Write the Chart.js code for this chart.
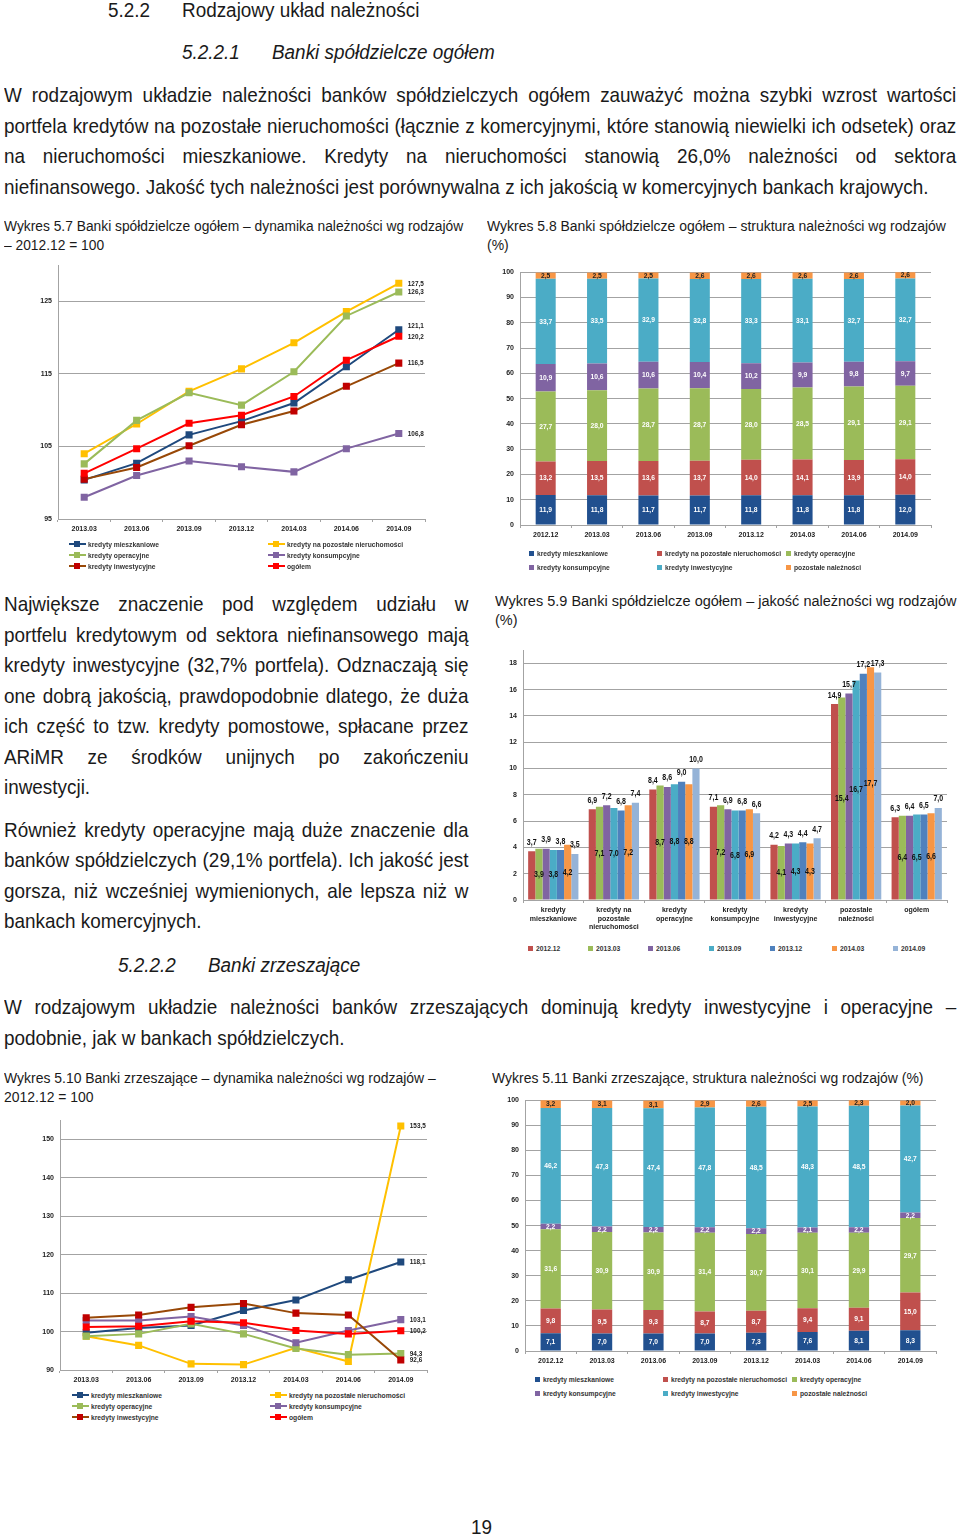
<!DOCTYPE html>
<html lang="pl">
<head>
<meta charset="UTF-8">
<title>Rodzajowy układ należności</title>
<script src="https://cdn.jsdelivr.net/npm/chart.js"></script>
<style>
  body {
    margin: 0; width: 960px; height: 1537px; position: relative; overflow: hidden;
    background: #fff; color: #1a1a1a;
    font-family: "Liberation Sans Narrow", "Arial Narrow", "Liberation Sans", sans-serif;
  }
  /* the page uses a narrow face; squeeze the regular one to the same width */
  .t { position: absolute; white-space: nowrap; transform: scaleX(0.9); transform-origin: 0 0; }
  .h { font-size: 20px; line-height: 24px; transform: scaleX(0.945); }
  .it { font-style: italic; }
  .par { position: absolute; font-size: 21px; transform: scaleX(0.9); transform-origin: 0 0; }
  .par div { text-align: justify; text-align-last: justify; white-space: nowrap; }
  .par div.last { text-align-last: left; }
  .cap { font-size: 15.5px; line-height: 19px; }
  canvas { position: absolute; }
  .lg { position: absolute; height: 10px; display: flex; align-items: center; white-space: nowrap;
        font-weight: bold; font-size: 8px; color: #333; }
  .lg b { display: inline-block; transform: scaleX(0.84); transform-origin: 0 50%; }
  .ln { position: relative; width: 17px; height: 2px; margin-right: 2px; }
  .ln i { position: absolute; left: 5px; top: -2px; width: 6px; height: 6px; }
  .sq { width: 5px; height: 5px; margin-right: 3px; }
</style>
</head>
<body>

<!-- Headings and text -->
<div class="t h" style="left:108px;top:-2px">5.2.2</div>
<div class="t h" style="left:182px;top:-2px">Rodzajowy układ należności</div>
<div class="t h it" style="left:182px;top:40px">5.2.2.1</div>
<div class="t h it" style="left:272px;top:40px">Banki spółdzielcze ogółem</div>

<div class="par" style="left:4px;top:80px;width:1058px;line-height:30.7px">
  <div>W rodzajowym układzie należności banków spółdzielczych ogółem zauważyć można szybki wzrost wartości</div>
  <div>portfela kredytów na pozostałe nieruchomości (łącznie z komercyjnymi, które stanowią niewielki ich odsetek) oraz</div>
  <div>na nieruchomości mieszkaniowe. Kredyty na nieruchomości stanowią 26,0% należności od sektora</div>
  <div class="last">niefinansowego. Jakość tych należności jest porównywalna z ich jakością w komercyjnych bankach krajowych.</div>
</div>

<div class="t cap" style="left:4px;top:216px;transform:scaleX(0.89)">Wykres 5.7 Banki spółdzielcze ogółem – dynamika należności wg rodzajów<br>– 2012.12 = 100</div>
<div class="t cap" style="left:487px;top:216px">Wykres 5.8 Banki spółdzielcze ogółem – struktura należności wg rodzajów<br>(%)</div>

<div class="par" style="left:4px;top:589px;width:516px;line-height:30.5px">
  <div>Największe znaczenie pod względem udziału w</div>
  <div>portfelu kredytowym od sektora niefinansowego mają</div>
  <div>kredyty inwestycyjne (32,7% portfela). Odznaczają się</div>
  <div>one dobrą jakością, prawdopodobnie dlatego, że duża</div>
  <div>ich część to tzw. kredyty pomostowe, spłacane przez</div>
  <div>ARiMR ze środków unijnych po zakończeniu</div>
  <div class="last">inwestycji.</div>
</div>
<div class="par" style="left:4px;top:815px;width:516px;line-height:30.4px">
  <div>Również kredyty operacyjne mają duże znaczenie dla</div>
  <div>banków spółdzielczych (29,1% portfela). Ich jakość jest</div>
  <div>gorsza, niż wcześniej wymienionych, ale lepsza niż w</div>
  <div class="last">bankach komercyjnych.</div>
</div>

<div class="t cap" style="left:495px;top:591px;transform:scaleX(0.935)">Wykres 5.9 Banki spółdzielcze ogółem – jakość należności wg rodzajów<br>(%)</div>

<div class="t h it" style="left:118px;top:953px">5.2.2.2</div>
<div class="t h it" style="left:208px;top:953px">Banki zrzeszające</div>

<div class="par" style="left:4px;top:992px;width:1058px;line-height:30.7px">
  <div>W rodzajowym układzie należności banków zrzeszających dominują kredyty inwestycyjne i operacyjne –</div>
  <div class="last">podobnie, jak w bankach spółdzielczych.</div>
</div>

<div class="t cap" style="left:4px;top:1068px">Wykres 5.10 Banki zrzeszające – dynamika należności wg rodzajów –<br>2012.12 = 100</div>
<div class="t cap" style="left:492px;top:1068px">Wykres 5.11 Banki zrzeszające, struktura należności wg rodzajów (%)</div>

<div class="t h" style="left:471px;top:1515px">19</div>

<canvas id="c57" width="480" height="285" style="left:0;top:255px"></canvas>
<canvas id="c58" width="475" height="282" style="left:485px;top:262px"></canvas>
<canvas id="c59" width="470" height="300" style="left:490px;top:640px"></canvas>
<canvas id="c510" width="480" height="280" style="left:0;top:1110px"></canvas>
<canvas id="c511" width="470" height="282" style="left:490px;top:1090px"></canvas>

<script>
// ---- data ----
const quarters = ['2013.03', '2013.06', '2013.09', '2013.12', '2014.03', '2014.06', '2014.09'];
const periods = ['2012.12', '2013.03', '2013.06', '2013.09', '2013.12', '2014.03', '2014.06', '2014.09'];
const lineNames = ['kredyty mieszkaniowe', 'kredyty na pozostałe nieruchomości', 'kredyty operacyjne',
                   'kredyty konsumpcyjne', 'kredyty inwestycyjne', 'ogółem'];
const structNames = ['kredyty mieszkaniowe', 'kredyty na pozostałe nieruchomości', 'kredyty operacyjne',
                     'kredyty konsumpcyjne', 'kredyty inwestycyjne', 'pozostałe należności'];

// Wykres 5.7 - banki spółdzielcze, 2012.12 = 100
const bsMieszkaniowe   = [100.4, 102.7, 106.6, 108.5, 111.0, 116.0, 121.1];
const bsNieruchomosci  = [104.0, 108.1, 112.6, 115.7, 119.3, 123.6, 127.5];
const bsOperacyjne     = [102.6, 108.6, 112.4, 110.7, 115.3, 123.0, 126.3];
const bsKonsumpcyjne   = [98.0, 101.0, 103.0, 102.2, 101.5, 104.7, 106.8];
const bsInwestycyjne   = [100.5, 102.1, 105.1, 108.0, 109.9, 113.3, 116.5];
const bsOgolem         = [101.3, 104.7, 108.2, 109.3, 111.9, 116.9, 120.2];
const ticks57 = [95, 105, 115, 125];

// Wykres 5.8 - struktura (%)
const sMieszkaniowe  = [11.9, 11.8, 11.7, 11.7, 11.8, 11.8, 11.8, 12.0];
const sNieruchomosci = [13.2, 13.5, 13.6, 13.7, 14.0, 14.1, 13.9, 14.0];
const sOperacyjne    = [27.7, 28.0, 28.7, 28.7, 28.0, 28.5, 29.1, 29.1];
const sKonsumpcyjne  = [10.9, 10.6, 10.6, 10.4, 10.2, 9.9, 9.8, 9.7];
const sInwestycyjne  = [33.7, 33.5, 32.9, 32.8, 33.3, 33.1, 32.7, 32.7];
const sPozostale     = [2.5, 2.5, 2.5, 2.6, 2.6, 2.6, 2.6, 2.6];

// Wykres 5.9 - jakość (%)
const qualityCategories = [['kredyty', 'mieszkaniowe'], ['kredyty na', 'pozostałe', 'nieruchomości'],
  ['kredyty', 'operacyjne'], ['kredyty', 'konsumpcyjne'], ['kredyty', 'inwestycyjne'],
  ['pozostałe', 'należności'], 'ogółem'];
const qualityPeriods = ['2012.12', '2013.03', '2013.06', '2013.09', '2013.12', '2014.03', '2014.09'];
const q201212 = [3.7, 6.9, 8.4, 7.1, 4.2, 14.9, 6.3];
const q201303 = [3.9, 7.1, 8.7, 7.2, 4.1, 15.4, 6.4];
const q201306 = [3.9, 7.2, 8.6, 6.9, 4.3, 15.7, 6.4];
const q201309 = [3.8, 7.0, 8.8, 6.8, 4.3, 16.7, 6.5];
const q201312 = [3.8, 6.8, 9.0, 6.8, 4.4, 17.2, 6.5];
const q201403 = [4.2, 7.2, 8.8, 6.9, 4.3, 17.7, 6.6];
const q201409 = [3.5, 7.4, 10.0, 6.6, 4.7, 17.3, 7.0];
const ticks59 = [0, 2, 4, 6, 8, 10, 12, 14, 16, 18];

// Wykres 5.10 - banki zrzeszające, 2012.12 = 100
const bzMieszkaniowe  = [99.7, 100.9, 101.6, 105.5, 108.2, 113.5, 118.1];
const bzNieruchomosci = [98.8, 96.4, 91.6, 91.4, 95.8, 92.2, 153.5];
const bzOperacyjne    = [98.8, 99.4, 102.0, 99.4, 95.6, 94.0, 94.3];
const bzKonsumpcyjne  = [102.9, 102.9, 103.9, 101.6, 97.1, 100.3, 103.1];
const bzInwestycyjne  = [103.6, 104.3, 106.3, 107.3, 104.8, 104.3, 92.6];
const bzOgolem        = [101.2, 101.4, 102.7, 102.3, 100.3, 99.4, 100.2];
const ticks510 = [90, 100, 110, 120, 130, 140, 150];

// Wykres 5.11 - struktura (%)
const zMieszkaniowe  = [7.1, 7.0, 7.0, 7.0, 7.3, 7.6, 8.1, 8.3];
const zNieruchomosci = [9.8, 9.5, 9.3, 8.7, 8.7, 9.4, 9.1, 15.0];
const zOperacyjne    = [31.6, 30.9, 30.9, 31.4, 30.7, 30.1, 29.9, 29.7];
const zKonsumpcyjne  = [2.2, 2.2, 2.2, 2.2, 2.2, 2.1, 2.2, 2.2];
const zInwestycyjne  = [46.2, 47.3, 47.4, 47.8, 48.5, 48.3, 48.5, 42.7];
const zPozostale     = [3.2, 3.1, 3.1, 2.9, 2.6, 2.5, 2.3, 2.0];

// ---- styles ----
const FONT = '"Liberation Sans Narrow", "Arial Narrow", "Liberation Sans", sans-serif';
const GRID = '#a3a3a3';
const lineColors   = ['#1F497D', '#FFC000', '#9BBB59', '#8064A2', '#984807', '#FF0000'];
const markerColors = ['#1F497D', '#FFC000', '#9BBB59', '#8064A2', '#C00000', '#FF0000'];
const structColors = ['#21508F', '#C0504D', '#9BBB59', '#8064A2', '#4BACC6', '#F79646'];
const qualityColors = ['#C0504D', '#9BBB59', '#8064A2', '#4BACC6', '#4F81BD', '#F79646', '#95B3D7'];

Chart.defaults.font.family = FONT;
Chart.defaults.font.size = 7;
Chart.defaults.font.weight = 'bold';
Chart.defaults.color = '#222';
Chart.defaults.animation = false;

const fmt = v => v.toFixed(1).replace('.', ',');

// draws squeezed text (narrow look)
function narrowText(ctx, text, x, y, sx) {
  ctx.save();
  ctx.translate(x, y);
  ctx.scale(sx, 1);
  ctx.fillText(text, 0, 0);
  ctx.restore();
}

// label next to the last point of each line
const lastValueLabels = {
  id: 'lastValueLabels',
  afterDatasetsDraw(chart, args, opts) {
    const ctx = chart.ctx;
    ctx.save();
    ctx.font = 'bold 8px ' + FONT;
    ctx.fillStyle = '#222';
    ctx.textAlign = 'left';
    ctx.textBaseline = 'middle';
    chart.data.datasets.forEach((ds, i) => {
      const pts = chart.getDatasetMeta(i).data;
      const pt = pts[pts.length - 1];
      const dy = (opts.nudge && opts.nudge[i]) || 0;
      narrowText(ctx, fmt(ds.data[ds.data.length - 1]), pt.x + 9, pt.y + dy, 0.8);
    });
    ctx.restore();
  }
};

// labels in the middle of stacked segments
const stackLabels = {
  id: 'stackLabels',
  afterDatasetsDraw(chart) {
    const ctx = chart.ctx;
    ctx.save();
    ctx.font = 'bold 8px ' + FONT;
    ctx.textAlign = 'center';
    ctx.textBaseline = 'middle';
    chart.data.datasets.forEach((ds, i) => {
      ctx.fillStyle = i === 5 ? '#222' : '#fff';
      chart.getDatasetMeta(i).data.forEach((bar, j) => {
        narrowText(ctx, fmt(ds.data[j]), bar.x, (bar.y + bar.base) / 2, 0.84);
      });
    });
    ctx.restore();
  }
};

// alternating labels: above the bar / inside the bar
const groupLabels = {
  id: 'groupLabels',
  afterDatasetsDraw(chart) {
    const ctx = chart.ctx;
    ctx.save();
    ctx.font = 'bold 9px ' + FONT;
    ctx.fillStyle = '#111';
    ctx.textAlign = 'center';
    ctx.textBaseline = 'middle';
    chart.data.datasets.forEach((ds, i) => {
      chart.getDatasetMeta(i).data.forEach((bar, j) => {
        const y = i % 2 === 0 ? bar.y - 9 : (bar.y + bar.base) / 2;
        narrowText(ctx, fmt(ds.data[j]), bar.x, y, 0.78);
      });
    });
    ctx.restore();
  }
};

function xAxis(h, extra) {
  return Object.assign({
    grid: { display: true, drawOnChartArea: false, offset: true, tickLength: 3, color: GRID },
    border: { color: GRID },
    ticks: { autoSkip: false, maxRotation: 0, padding: 3 },
    afterFit: s => { s.height = h; }
  }, extra || {});
}

function yAxis(w, min, max, tickList) {
  return {
    min: min, max: max,
    grid: { color: GRID, drawTicks: false },
    border: { color: GRID },
    ticks: { padding: 6 },
    afterBuildTicks: s => { s.ticks = tickList.map(v => ({ value: v })); },
    afterFit: s => { s.width = w; }
  };
}

function lineChart(id, series, tickList, min, max, pad, yw, xh, nudge) {
  new Chart(document.getElementById(id), {
    type: 'line',
    data: {
      labels: quarters,
      datasets: series.map((d, i) => ({
        label: lineNames[i],
        data: d,
        borderColor: lineColors[i],
        backgroundColor: markerColors[i],
        pointBackgroundColor: markerColors[i],
        pointBorderWidth: 0,
        pointStyle: 'rect',
        pointRadius: 5,
        borderWidth: 2,
        tension: 0,
        order: series.length - i
      }))
    },
    options: {
      responsive: false,
      layout: { padding: pad },
      plugins: { legend: { display: false }, tooltip: { enabled: false }, lastValueLabels: { nudge: nudge } },
      scales: {
        x: xAxis(xh, { offset: true }),
        y: yAxis(yw, min, max, tickList)
      }
    },
    plugins: [lastValueLabels]
  });
}

function stackChart(id, series, pad, yw, xh, pct) {
  new Chart(document.getElementById(id), {
    type: 'bar',
    data: {
      labels: periods,
      datasets: series.map((d, i) => ({
        label: structNames[i], data: d, backgroundColor: structColors[i],
        barPercentage: pct, categoryPercentage: 1
      }))
    },
    options: {
      responsive: false,
      layout: { padding: pad },
      plugins: { legend: { display: false }, tooltip: { enabled: false } },
      scales: {
        x: xAxis(xh, { stacked: true }),
        y: Object.assign(yAxis(yw, 0, 100, [0, 10, 20, 30, 40, 50, 60, 70, 80, 90, 100]), { stacked: true })
      }
    },
    plugins: [stackLabels]
  });
}

// Wykres 5.7
lineChart('c57', [bsMieszkaniowe, bsNieruchomosci, bsOperacyjne, bsKonsumpcyjne, bsInwestycyjne, bsOgolem],
  ticks57, 95, 130, { left: 18, top: 8, right: 55, bottom: 0 }, 40, 21, [-4, 0, 0, 0, 0, 1]);

// Wykres 5.8
stackChart('c58', [sMieszkaniowe, sNieruchomosci, sOperacyjne, sKonsumpcyjne, sInwestycyjne, sPozostale],
  { left: 10, top: 8, right: 29, bottom: 0 }, 25, 19, 0.39);

// Wykres 5.9
new Chart(document.getElementById('c59'), {
  type: 'bar',
  data: {
    labels: qualityCategories,
    datasets: [q201212, q201303, q201306, q201309, q201312, q201403, q201409].map((d, i) => ({
      label: qualityPeriods[i], data: d, backgroundColor: qualityColors[i],
      barPercentage: 1, categoryPercentage: 0.83
    }))
  },
  options: {
    responsive: false,
    layout: { padding: { left: 8, top: 7, right: 13, bottom: 0 } },
    plugins: { legend: { display: false }, tooltip: { enabled: false } },
    scales: {
      x: xAxis(40),
      y: yAxis(25, 0, 19, ticks59)
    }
  },
  plugins: [groupLabels]
});

// Wykres 5.10
lineChart('c510', [bzMieszkaniowe, bzNieruchomosci, bzOperacyjne, bzKonsumpcyjne, bzInwestycyjne, bzOgolem],
  ticks510, 90, 155, { left: 20, top: 8, right: 53, bottom: 0 }, 40, 20, [0, 0, 0, 0, 0, 0]);

// Wykres 5.11
stackChart('c511', [zMieszkaniowe, zNieruchomosci, zOperacyjne, zKonsumpcyjne, zInwestycyjne, zPozostale],
  { left: 10, top: 7, right: 24, bottom: 0 }, 25, 21, 0.395);

// ---- legends ----
function lineLegend(colsX, top, rowH) {
  lineNames.forEach((name, i) => {
    const d = document.createElement('div');
    d.className = 'lg';
    d.style.left = colsX[i % 2] + 'px';
    d.style.top = (top + rowH * Math.floor(i / 2)) + 'px';
    d.innerHTML = '<span class="ln" style="background:' + lineColors[i] + '"><i style="background:' +
      markerColors[i] + '"></i></span><b>' + name + '</b>';
    document.body.appendChild(d);
  });
}

function boxLegend(names, colors, colsX, top, rowH, perRow) {
  names.forEach((name, i) => {
    const d = document.createElement('div');
    d.className = 'lg';
    d.style.left = colsX[i % perRow] + 'px';
    d.style.top = (top + rowH * Math.floor(i / perRow)) + 'px';
    d.innerHTML = '<span class="sq" style="background:' + colors[i] + '"></span><b>' + name + '</b>';
    document.body.appendChild(d);
  });
}

lineLegend([69, 268], 539, 11);
lineLegend([72, 270], 1390, 11);
boxLegend(structNames, structColors, [529, 657, 786], 548, 14, 3);
boxLegend(structNames, structColors, [535, 663, 792], 1374, 14, 3);
boxLegend(qualityPeriods, qualityColors, [528, 588, 648, 709, 770, 832, 893], 943, 0, 7);
</script>
</body>
</html>
